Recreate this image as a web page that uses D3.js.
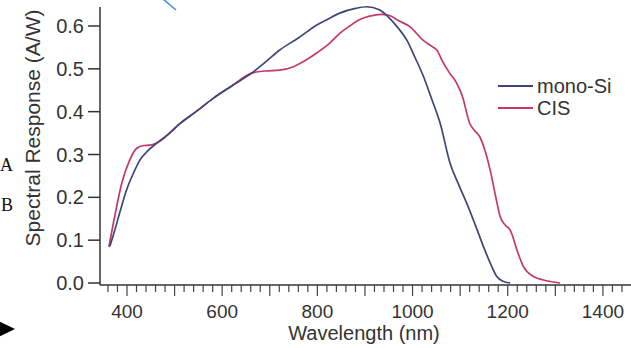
<!DOCTYPE html>
<html>
<head>
<meta charset="utf-8">
<script src="https://cdn.jsdelivr.net/npm/d3@7"></script>
<style>
  html, body { margin: 0; padding: 0; background: #fff; }
  svg { display: block; }
  text { font-family: "Liberation Sans", Arial, Helvetica, sans-serif; fill: #333; }
</style>
</head>
<body>
<svg id="chart" width="631" height="348"></svg>
<script>
// ---- data ----
const seriesNames = ["mono-Si", "CIS"];
const monoSi = [
  [364,0.086],[373,0.118],[385,0.165],[399,0.217],[413,0.255],[427,0.287],[445,0.31],[462,0.326],
  [485,0.346],[511,0.372],[545,0.40],[581,0.431],[620,0.46],[662,0.49],[690,0.515],[721,0.544],
  [760,0.572],[800,0.603],[819,0.614],[847,0.63],[880,0.641],[904,0.645],[930,0.638],[952,0.618],
  [970,0.595],[988,0.567],[1005,0.527],[1023,0.482],[1040,0.43],[1058,0.373],[1079,0.279],
  [1096,0.232],[1114,0.186],[1132,0.135],[1149,0.085],[1165,0.042],[1177,0.015],[1190,0.004],[1205,0.0]
];
const cis = [
  [362,0.084],[375,0.16],[389,0.233],[405,0.285],[420,0.314],[435,0.321],[448,0.322],[473,0.334],
  [490,0.35],[511,0.372],[545,0.40],[581,0.431],[620,0.46],[662,0.49],[690,0.495],[721,0.497],
  [750,0.505],[777,0.521],[800,0.538],[826,0.56],[847,0.583],[868,0.60],[889,0.615],[910,0.623],
  [935,0.627],[950,0.625],[970,0.613],[995,0.598],[1022,0.567],[1040,0.553],[1051,0.544],[1064,0.515],
  [1078,0.49],[1093,0.466],[1105,0.435],[1120,0.373],[1131,0.355],[1141,0.342],[1152,0.31],
  [1163,0.264],[1175,0.2],[1184,0.155],[1195,0.135],[1205,0.124],[1220,0.075],[1233,0.038],
  [1254,0.015],[1275,0.007],[1310,0.0]
];
const xTickLabels = [400, 600, 800, 1000, 1200, 1400];
const yTickLabels = [0.0, 0.1, 0.2, 0.3, 0.4, 0.5, 0.6];
const xTitle = "Wavelength (nm)";
const yTitle = "Spectral Response (A/W)";

// ---- layout ----
const svg = d3.select("#chart");
const colors = { "mono-Si": "#3d4679", "CIS": "#c4386c" };
const x = d3.scaleLinear().domain([343.3, 1459]).range([100, 631]);
const y = d3.scaleLinear().domain([0, 0.6]).range([283, 26]);
const axisY0 = 285;

// x axis
const gx = svg.append("g").attr("transform", `translate(0,${axisY0})`);
gx.append("line").attr("x1", 100).attr("x2", 631).attr("y1", 0).attr("y2", 0)
  .attr("stroke", "#333").attr("stroke-width", 1.5);
const minor = d3.range(360, 1460, 20);
gx.selectAll("line.minor").data(minor).enter().append("line")
  .attr("class", "minor")
  .attr("x1", d => x(d)).attr("x2", d => x(d))
  .attr("y1", 0).attr("y2", d => d % 100 === 0 ? 11 : 7)
  .attr("stroke", "#444").attr("stroke-width", 1.2);
gx.selectAll("text.tl").data(xTickLabels).enter().append("text")
  .attr("class", "tl")
  .attr("x", d => x(d)).attr("y", 33)
  .attr("text-anchor", "middle").attr("font-size", 19)
  .text(d => d);

// y axis
const gy = svg.append("g");
gy.append("line").attr("x1", 100).attr("x2", 100).attr("y1", 7).attr("y2", axisY0)
  .attr("stroke", "#333").attr("stroke-width", 1.5);
gy.selectAll("line.yt").data(yTickLabels).enter().append("line")
  .attr("class", "yt")
  .attr("x1", 88).attr("x2", 100)
  .attr("y1", d => y(d)).attr("y2", d => y(d))
  .attr("stroke", "#333").attr("stroke-width", 1.5);
gy.selectAll("text.yl").data(yTickLabels).enter().append("text")
  .attr("class", "yl")
  .attr("x", 84).attr("y", d => y(d)).attr("dy", "0.35em")
  .attr("text-anchor", "end").attr("font-size", 20)
  .text(d => d3.format(".1f")(d));

// titles
svg.append("text").attr("x", 364).attr("y", 340)
  .attr("text-anchor", "middle").attr("font-size", 20).text(xTitle);
svg.append("text").attr("transform", "translate(40,128) rotate(-90)")
  .attr("text-anchor", "middle").attr("font-size", 21).text(yTitle);

// lines
const line = d3.line().x(d => x(d[0])).y(d => y(d[1])).curve(d3.curveMonotoneX);
const data = { "mono-Si": monoSi, "CIS": cis };
["CIS", "mono-Si"].forEach(name => {
  svg.append("path").datum(data[name])
    .attr("d", line).attr("fill", "none")
    .attr("stroke", colors[name]).attr("stroke-width", 1.7)
    .attr("stroke-linejoin", "round");
});

// legend
const lg = svg.append("g");
seriesNames.forEach((name, i) => {
  const yy = 86 + i * 22;
  lg.append("line").attr("x1", 498).attr("x2", 533).attr("y1", yy).attr("y2", yy)
    .attr("stroke", colors[name]).attr("stroke-width", 2);
  lg.append("text").attr("x", 537).attr("y", yy).attr("dy", "0.35em")
    .attr("font-size", 20).text(name);
});

// page artifacts
svg.append("line").attr("x1", 163).attr("y1", -1).attr("x2", 176).attr("y2", 10)
  .attr("stroke", "#4a88d4").attr("stroke-width", 1.5);
svg.append("text").attr("x", 0).attr("y", 171).attr("font-size", 18)
  .style("font-family", "'Liberation Serif', 'Times New Roman', serif").style("fill", "#111").text("A");
svg.append("text").attr("x", 1).attr("y", 211).attr("font-size", 18)
  .style("font-family", "'Liberation Serif', 'Times New Roman', serif").style("fill", "#111").text("B");
svg.append("path").attr("d", "M-6,319 L15,329 L-6,339 Z").attr("fill", "#000");
</script>
</body>
</html>
